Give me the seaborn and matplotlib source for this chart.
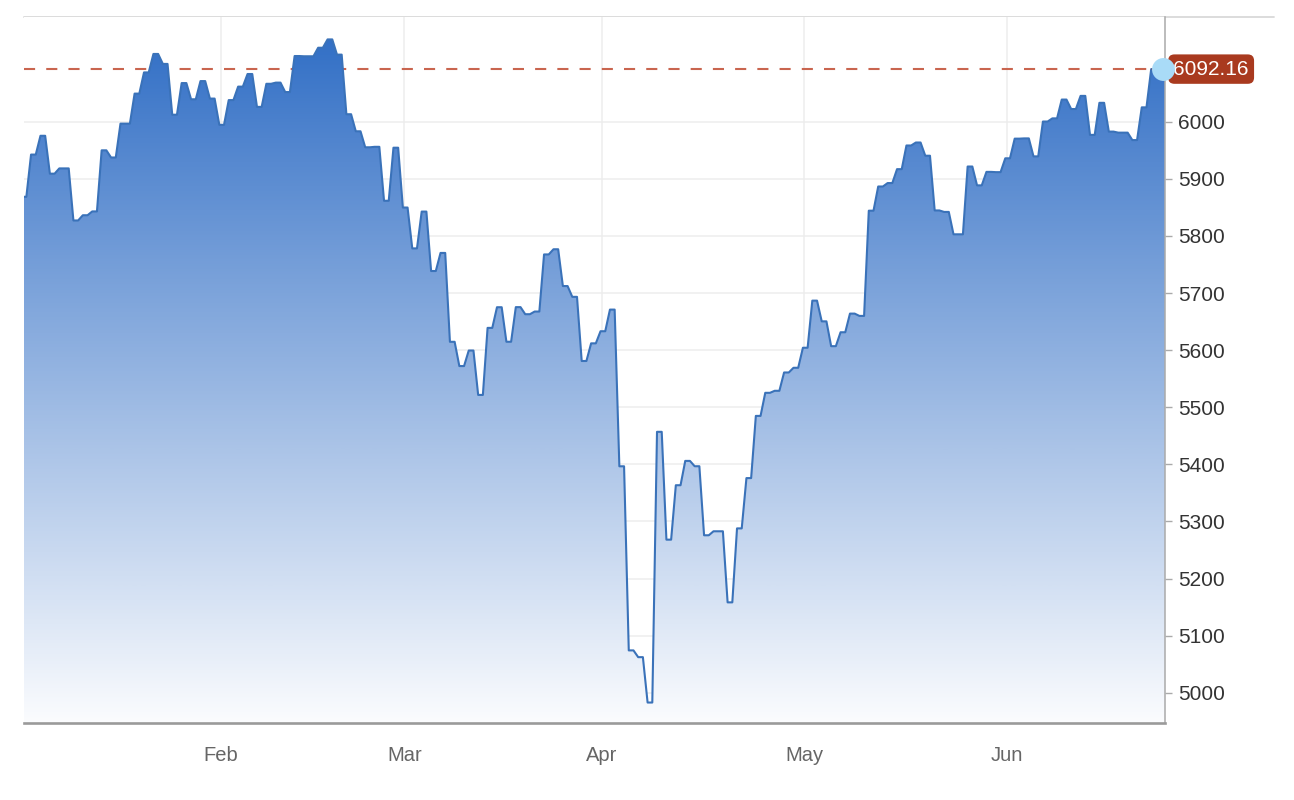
import numpy as np
import pandas as pd
import matplotlib
matplotlib.use("Agg")
import matplotlib.pyplot as plt
import seaborn as sns
from matplotlib.colors import LinearSegmentedColormap
from matplotlib.lines import Line2D
from matplotlib.patches import Polygon
from matplotlib.transforms import IdentityTransform

# ---------------- data ----------------
dates = [
    "2025-01-02", "2025-01-03", "2025-01-06", "2025-01-07", "2025-01-08", "2025-01-10",
    "2025-01-13", "2025-01-14", "2025-01-15", "2025-01-16", "2025-01-17", "2025-01-21",
    "2025-01-22", "2025-01-23", "2025-01-24", "2025-01-27", "2025-01-28", "2025-01-29",
    "2025-01-30", "2025-01-31",
    "2025-02-03", "2025-02-04", "2025-02-05", "2025-02-06", "2025-02-07", "2025-02-10",
    "2025-02-11", "2025-02-12", "2025-02-13", "2025-02-14", "2025-02-18", "2025-02-19",
    "2025-02-20", "2025-02-21", "2025-02-24", "2025-02-25", "2025-02-26", "2025-02-27",
    "2025-02-28",
    "2025-03-03", "2025-03-04", "2025-03-05", "2025-03-06", "2025-03-07", "2025-03-10",
    "2025-03-11", "2025-03-12", "2025-03-13", "2025-03-14", "2025-03-17", "2025-03-18",
    "2025-03-19", "2025-03-20", "2025-03-21", "2025-03-24", "2025-03-25", "2025-03-26",
    "2025-03-27", "2025-03-28", "2025-03-31",
    "2025-04-01", "2025-04-02", "2025-04-03", "2025-04-04", "2025-04-07", "2025-04-08",
    "2025-04-09", "2025-04-10", "2025-04-11", "2025-04-14", "2025-04-15", "2025-04-16",
    "2025-04-17", "2025-04-21", "2025-04-22", "2025-04-23", "2025-04-24", "2025-04-25",
    "2025-04-28", "2025-04-29", "2025-04-30",
    "2025-05-01", "2025-05-02", "2025-05-05", "2025-05-06", "2025-05-07", "2025-05-08",
    "2025-05-09", "2025-05-12", "2025-05-13", "2025-05-14", "2025-05-15", "2025-05-16",
    "2025-05-19", "2025-05-20", "2025-05-21", "2025-05-22", "2025-05-23", "2025-05-27",
    "2025-05-28", "2025-05-29", "2025-05-30",
    "2025-06-02", "2025-06-03", "2025-06-04", "2025-06-05", "2025-06-06", "2025-06-09",
    "2025-06-10", "2025-06-11", "2025-06-12", "2025-06-13", "2025-06-16", "2025-06-17",
    "2025-06-18", "2025-06-20", "2025-06-23", "2025-06-24", "2025-06-25",
]

closes = [
    5868.55, 5942.47, 5975.38, 5909.03, 5918.25, 5827.04,
    5836.22, 5842.91, 5949.91, 5937.34, 5996.66, 6049.24,
    6086.37, 6118.71, 6101.24, 6012.28, 6067.70, 6039.31,
    6071.17, 6040.53,
    5994.57, 6037.88, 6061.48, 6083.57, 6025.99, 6066.44,
    6068.50, 6051.97, 6115.07, 6114.63, 6129.58, 6144.15,
    6117.52, 6013.13, 5983.25, 5955.25, 5956.06, 5861.57,
    5954.50,
    5849.72, 5778.15, 5842.63, 5738.52, 5770.20, 5614.56,
    5572.07, 5599.30, 5521.52, 5638.94, 5675.12, 5614.66,
    5675.29, 5662.89, 5667.56, 5767.57, 5776.65, 5712.20,
    5693.31, 5580.94, 5611.85,
    5633.07, 5670.97, 5396.52, 5074.08, 5062.25, 4982.77,
    5456.90, 5268.05, 5363.36, 5405.97, 5396.63, 5275.70,
    5282.70, 5158.20, 5287.76, 5375.86, 5484.77, 5525.21,
    5528.75, 5560.83, 5569.06,
    5604.14, 5686.67, 5650.38, 5606.91, 5631.28, 5663.94,
    5659.91, 5844.19, 5886.55, 5892.58, 5916.93, 5958.38,
    5963.60, 5940.46, 5844.61, 5842.01, 5802.82, 5921.54,
    5888.55, 5912.17, 5911.69,
    5935.94, 5970.37, 5970.81, 5939.30, 6000.36, 6005.88,
    6038.81, 6022.24, 6045.26, 5976.97, 6033.11, 5982.72,
    5980.87, 5967.84, 6025.17, 6092.18, 6092.16,
]

market_holidays = ["2025-01-09", "2025-01-20", "2025-02-17", "2025-04-18", "2025-05-26", "2025-06-19"]
month_labels = ["Feb", "Mar", "Apr", "May", "Jun"]
y_ticks = [5000, 5100, 5200, 5300, 5400, 5500, 5600, 5700, 5800, 5900, 6000]
last_label = "6092.16"

# ---------------- style ----------------
sns.set_theme(style="white")
plt.rcParams["font.family"] = ["Liberation Sans", "DejaVu Sans"]
plt.rcParams["lines.scale_dashes"] = False

LINE_C = "#3a72b9"
TOP_C = "#3370c6"
GRID_C = "#ededed"

# ---------------- positions (trading-day axis, holidays count half) ----------------
d = pd.to_datetime(dates)
hol = pd.to_datetime(market_holidays)
n_before = np.array([(hol < di).sum() for di in d])
pos = np.arange(len(d)) + 0.5 * n_before
vals = np.array(closes)
n = len(vals)

xs, ys = [], []
for i in range(n):
    left = pos[i] - 0.25
    right = pos[i] + 0.25 if i == n - 1 else pos[i + 1] - 0.75
    xs += [left, right]
    ys += [vals[i], vals[i]]
df = pd.DataFrame({"x": xs, "y": ys})

months = d.to_period("M")
first_idx = [int(np.argmax(months == m)) for m in months.unique()[1:]]
tick_pos = [pos[k] - 0.1 for k in first_idx]

YMIN, YMAX = 4946.4, 6182.9
XMIN, XMAX = 0.0, pos[-1] + 0.25

# ---------------- figure ----------------
fig = plt.figure(figsize=(12.94, 8.0), dpi=100)
ax = fig.add_axes([24 / 1294, (800 - 723.3) / 800, (1165.3 - 24) / 1294, (723.3 - 17.3) / 800])
ax.set_xlim(XMIN, XMAX)
ax.set_ylim(YMIN, YMAX)

# gradient fill clipped by area polygon
cmap = LinearSegmentedColormap.from_list("g", ["#fbfcfe", TOP_C])
grad = np.linspace(0, 1, 512).reshape(-1, 1)
im = ax.imshow(grad, extent=[XMIN - 1, XMAX + 1, YMIN, vals.max()], origin="lower",
               cmap=cmap, aspect="auto", zorder=2, interpolation="bilinear")
verts = [(xs[0], YMIN)] + list(zip(xs, ys)) + [(xs[-1], YMIN)]
clip = Polygon(verts, closed=True, facecolor="none", edgecolor="none", transform=ax.transData)
ax.add_patch(clip)
im.set_clip_path(clip)

# line
sns.lineplot(data=df, x="x", y="y", ax=ax, color=LINE_C, linewidth=1.5,
             estimator=None, sort=False, zorder=3)

# dashed reference line
ax.axhline(vals[-1], color="#c9654f", lw=1.5, linestyle=(0, (8, 8)), zorder=1.5)

# axes styling
ax.set_xlabel("")
ax.set_ylabel("")
ax.grid(True, color=GRID_C, lw=1.1)
ax.set_axisbelow(True)
for s in ["left", "top"]:
    ax.spines[s].set_visible(False)
ax.spines["right"].set_color("#aaaaaa")
ax.spines["right"].set_linewidth(1.1)
ax.spines["bottom"].set_color("#9a9a9a")
ax.spines["bottom"].set_linewidth(1.9)
ax.spines["right"].set_zorder(4)
ax.spines["bottom"].set_zorder(4)

ax.yaxis.tick_right()
ax.set_yticks(y_ticks)
ax.set_yticklabels([str(v) for v in y_ticks])
ax.set_xticks(tick_pos)
ax.set_xticklabels(month_labels)
ax.tick_params(axis="y", which="both", left=False, right=True, length=5, width=1,
               color="#aaaaaa", pad=4.5, labelsize=15, labelcolor="#333333")
ax.tick_params(axis="x", length=8, width=1.1, color="#aaaaaa", pad=8,
               labelsize=14.5, labelcolor="#666666")

# top border line extending past the axis
ytop = (800 - 17.3) / 800
fig.add_artist(Line2D([24 / 1294, 1274 / 1294], [ytop, ytop], color="#d9d9d9", lw=1.3,
                      transform=fig.transFigure, zorder=0))

# last value label with pointer
fig.canvas.draw()
px, py = ax.transData.transform((pos[-1], vals[-1]))
tri = Polygon([(px - 12, py), (px + 9, py + 11), (px + 9, py - 11)], closed=True,
              facecolor="#a93a1f", edgecolor="none", transform=IdentityTransform(),
              zorder=5, clip_on=False)
ax.add_artist(tri)
ax.annotate(last_label, xy=(pos[-1], vals[-1]), xytext=(7.5, 0), textcoords="offset points",
            ha="left", va="center", fontsize=15, color="white", annotation_clip=False,
            bbox=dict(boxstyle="round,pad=0.25,rounding_size=0.3", fc="#a93a1f", ec="none"),
            zorder=6)
ax.plot([pos[-1]], [vals[-1]], "o", ms=16.5, color="#a9dbf7", mec="none", zorder=7, clip_on=False)

fig.savefig("out.png", dpi=100)
